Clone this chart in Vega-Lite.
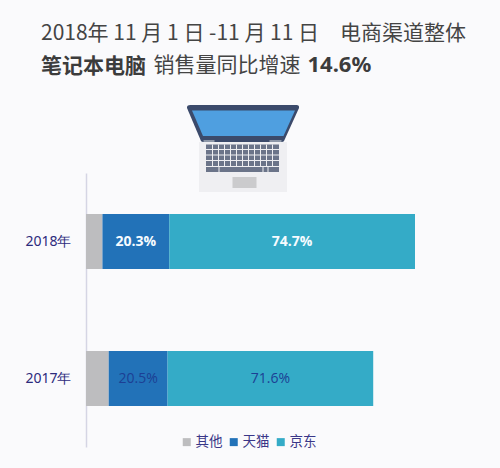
{
  "$schema": "https://vega.github.io/schema/vega-lite/v6.json",
  "width": 329,
  "height": 274,
  "autosize": {"type": "none"},
  "padding": {"left": 86, "top": 173, "right": 85, "bottom": 21},
  "background": "#fafafc",
  "title": {
    "text": "2018年 11 月 1 日 -11 月 11 日\u2003电商渠道整体",
    "subtitle": "笔记本电脑",
    "anchor": "start",
    "frame": "group",
    "dx": -45,
    "offset": -24,
    "font": "Noto Sans CJK SC",
    "fontSize": 21,
    "fontWeight": 400,
    "color": "#444444",
    "subtitleFont": "Noto Sans CJK SC",
    "subtitleFontSize": 21,
    "subtitleFontWeight": 700,
    "subtitleColor": "#3c3c3c",
    "subtitlePadding": 12
  },
  "config": {"view": {"stroke": null}},
  "data": {
    "values": [
      {"year": "2018年", "channel": "其他", "rank": 1, "sales": 5.0, "share": ""},
      {"year": "2018年", "channel": "天猫", "rank": 2, "sales": 20.3, "share": "20.3%"},
      {"year": "2018年", "channel": "京东", "rank": 3, "sales": 74.7, "share": "74.7%"},
      {"year": "2017年", "channel": "其他", "rank": 1, "sales": 6.9, "share": ""},
      {"year": "2017年", "channel": "天猫", "rank": 2, "sales": 17.9, "share": "20.5%"},
      {"year": "2017年", "channel": "京东", "rank": 3, "sales": 62.5, "share": "71.6%"}
    ]
  },
  "encoding": {
    "x": {
      "field": "sales",
      "type": "quantitative",
      "stack": "zero",
      "scale": {"domain": [0, 100], "nice": false},
      "axis": {
        "orient": "top",
        "labels": false,
        "ticks": false,
        "domain": false,
        "grid": false,
        "title": "销售量同比增速",
        "titleFont": "Noto Sans CJK SC",
        "titleFontSize": 21,
        "titleFontWeight": 400,
        "titleColor": "#444444",
        "titleAlign": "left",
        "titleBaseline": "alphabetic",
        "titleX": 67,
        "titleY": -102
      }
    },
    "y": {
      "field": "year",
      "type": "nominal",
      "sort": ["2018年", "2017年"],
      "scale": {"paddingInner": 0.6, "paddingOuter": 0.3},
      "axis": {
        "ticks": false,
        "grid": false,
        "domainColor": "#d5d5e4",
        "domainWidth": 1.5,
        "labelFont": "Noto Sans",
        "labelFontSize": 14,
        "labelColor": "#2d2b7c",
        "labelPadding": 15,
        "title": "14.6%",
        "titleFont": "Noto Sans",
        "titleFontSize": 22,
        "titleFontWeight": 700,
        "titleColor": "#3c3c3c",
        "titleAngle": 0,
        "titleAlign": "left",
        "titleBaseline": "alphabetic",
        "titleX": 221,
        "titleY": -102
      }
    },
    "order": {"field": "rank", "type": "ordinal"}
  },
  "layer": [
    {
      "mark": {"type": "bar"},
      "encoding": {
        "color": {
          "field": "channel",
          "type": "nominal",
          "scale": {
            "domain": ["其他", "天猫", "京东"],
            "range": ["#bdbdbf", "#2272b8", "#34abc7"]
          },
          "legend": {
            "title": null,
            "orient": "none",
            "direction": "horizontal",
            "legendX": 94,
            "legendY": 262,
            "symbolType": "square",
            "symbolSize": 64,
            "symbolStrokeWidth": 0,
            "labelFont": "Noto Sans CJK SC",
            "labelFontSize": 13.5,
            "labelColor": "#3a3788",
            "columnPadding": 4,
            "labelOffset": 2
          }
        }
      }
    },
    {
      "mark": {"type": "text", "font": "Open Sans", "fontSize": 14, "fontWeight": 700, "color": "#f6fbff"},
      "encoding": {
        "x": {"field": "sales", "type": "quantitative", "stack": "zero", "bandPosition": 0.5},
        "detail": {"field": "channel"},
        "text": {"condition": {"test": "datum.year === '2018年'", "field": "share"}, "value": ""}
      }
    },
    {
      "mark": {"type": "text", "font": "Open Sans", "fontSize": 14, "color": "#1c3f94"},
      "encoding": {
        "x": {"field": "sales", "type": "quantitative", "stack": "zero", "bandPosition": 0.5},
        "detail": {"field": "channel"},
        "text": {"condition": {"test": "datum.year === '2017年'", "field": "share"}, "value": ""}
      }
    },
    {
      "data": {"values": [{"part": "base"}]},
      "mark": {"type": "point", "filled": true, "opacity": 1, "size": 4, "color": "#efeff2", "strokeWidth": 0, "shape": "M-51.5 -168H36.5V-118H-51.5Z"},
      "encoding": {"x": null, "y": null, "order": null}
    },
    {
      "data": {"values": [{"part": "screen"}]},
      "mark": {"type": "point", "filled": true, "opacity": 1, "size": 4, "color": "#3b4a6b", "strokeWidth": 0, "shape": "M-60 -205H46Q49 -205 48.5 -202L33.5 -169Q33 -168 31 -168H-47Q-49 -168 -49.5 -169L-63.5 -202Q-64 -205 -60 -205Z"},
      "encoding": {"x": null, "y": null, "order": null}
    },
    {
      "data": {"values": [{"part": "display"}]},
      "mark": {"type": "point", "filled": true, "opacity": 1, "size": 4, "color": "#4f9fe0", "strokeWidth": 0, "shape": "M-58.5 -199.5H44.5L33 -174H-47.5Z"},
      "encoding": {"x": null, "y": null, "order": null}
    },
    {
      "data": {"values": [{"part": "hinges"}]},
      "mark": {"type": "point", "filled": true, "opacity": 1, "size": 4, "color": "#8d97a8", "strokeWidth": 0, "shape": "M-47 -170H-36V-168H-47ZM19 -170H31V-168H19Z"},
      "encoding": {"x": null, "y": null, "order": null}
    },
    {
      "data": {"values": [{"part": "keyboard"}]},
      "mark": {"type": "point", "filled": true, "opacity": 1, "size": 4, "color": "#6b7489", "strokeWidth": 0, "shape": "M-44.5 -165.5H28.5V-138H-44.5Z"},
      "encoding": {"x": null, "y": null, "order": null}
    },
    {
      "data": {"values": [{"part": "keygaps"}]},
      "mark": {"type": "point", "filled": true, "opacity": 1, "size": 4, "color": "#eeeef1", "strokeWidth": 0, "shape": "M-44.5 -161H28.5V-160H-44.5ZM-44.5 -155.5H28.5V-154.5H-44.5ZM-44.5 -150H28.5V-149H-44.5ZM-44.5 -144H28.5V-143H-44.5ZM-38.5 -165.5H-37.5V-143H-38.5ZM-32.5 -165.5H-31.5V-143H-32.5ZM-26.5 -165.5H-25.5V-143H-26.5ZM-20.5 -165.5H-19.5V-143H-20.5ZM-14.5 -165.5H-13.5V-143H-14.5ZM-8.5 -165.5H-7.5V-143H-8.5ZM-2.5 -165.5H-1.5V-143H-2.5ZM3.5 -165.5H4.5V-143H3.5ZM9.5 -165.5H10.5V-143H9.5ZM15.5 -165.5H16.5V-143H15.5ZM21.5 -165.5H22.5V-143H21.5ZM-32 -143H-31V-138H-32ZM12 -143H13V-138H12ZM17 -143H18V-138H17Z"},
      "encoding": {"x": null, "y": null, "order": null}
    },
    {
      "data": {"values": [{"part": "trackpad"}]},
      "mark": {"type": "point", "filled": true, "opacity": 1, "size": 4, "color": "#cbcbcd", "strokeWidth": 0, "shape": "M-18 -133H6V-122H-18Z"},
      "encoding": {"x": null, "y": null, "order": null}
    }
  ]
}
